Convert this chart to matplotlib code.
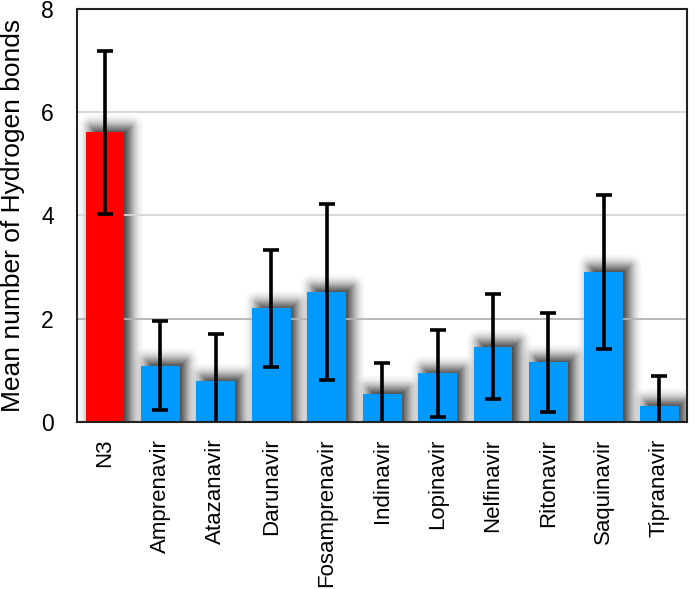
import matplotlib
matplotlib.use("Agg")
import matplotlib.pyplot as plt
from matplotlib.patches import FancyBboxPatch
import numpy as np
import math

categories = ["N3", "Amprenavir", "Atazanavir", "Darunavir", "Fosamprenavir",
              "Indinavir", "Lopinavir", "Nelfinavir", "Ritonavir", "Saquinavir", "Tipranavir"]
means = [5.61, 1.09, 0.79, 2.20, 2.52, 0.55, 0.94, 1.46, 1.16, 2.91, 0.31]
errors = [1.58, 0.86, 0.91, 1.13, 1.71, 0.60, 0.85, 1.02, 0.96, 1.49, 0.59]
colors = ["#ff0000"] + ["#0099ff"] * 10

plt.rcParams['font.family'] = ['Liberation Sans', 'DejaVu Sans']

fig = plt.figure(figsize=(6.96, 5.89), dpi=100)
ax = fig.add_axes([0.111, 0.2835, 0.876, 0.7015])

x = np.arange(len(categories))
width = 0.7
ax.set_xlim(-0.5, len(categories) - 0.5)
ax.set_ylim(0, 8)

fig.canvas.draw()
bbox = ax.get_window_extent()
px_x = len(categories) / bbox.width
px_y = 8.0 / bbox.height

# soft (gaussian-like) shadow built from stacked translucent layers
A, sigma, a = 0.8, 7.0, 0.03
shift_x, shift_y = 6.0, 5.0
d_grid = np.linspace(-35, 35, 7001)
T = A * 0.5 * np.array([math.erfc(d / (sigma * math.sqrt(2))) for d in d_grid])
levels = []
j = 1
while 1 - (1 - a) ** j < A:
    target = 1 - (1 - a) ** j
    idx = np.where(T >= target)[0]
    levels.append(d_grid[idx[-1]])
    j += 1

for xi, m in zip(x, means):
    for r in levels:
        x0 = xi - width / 2 + (shift_x - r) * px_x
        w = width + 2 * r * px_x
        h = m + (shift_y + r) * px_y
        if w <= 0 or h <= 0:
            continue
        rs = max(r, 0.05) * px_x
        p = FancyBboxPatch((x0, -1), w, h + 1,
                           boxstyle=f"round,pad=0,rounding_size={rs}",
                           mutation_aspect=px_y / px_x,
                           facecolor="black", edgecolor="none", alpha=a, zorder=1)
        ax.add_patch(p)

for yv, c in [(2, "#b4b4b4"), (4, "#d6d6d6"), (6, "#d6d6d6")]:
    ax.axhline(yv, color=c, linewidth=1.3, zorder=1.5)

ax.bar(x, means, width=width, color=colors, zorder=2)
ax.errorbar(x, means, yerr=errors, fmt="none", ecolor="black", elinewidth=2.6,
            capsize=6, capthick=2.6, zorder=3)

ax.set_xticks(x)
ax.set_xticklabels(categories, rotation=90, fontsize=16)
ax.set_yticks([0, 2, 4, 6, 8])
ax.tick_params(axis="y", length=0, labelsize=16.5, pad=17)
ax.tick_params(axis="x", length=0, pad=12)
ax.set_ylabel("Mean number of Hydrogen bonds", fontsize=19)
ax.yaxis.set_label_coords(-0.085, 0.5)
for s in ax.spines.values():
    s.set_linewidth(1.5)
    s.set_color("#222222")
    s.set_zorder(5)

fig.savefig("out.png", dpi=100)
